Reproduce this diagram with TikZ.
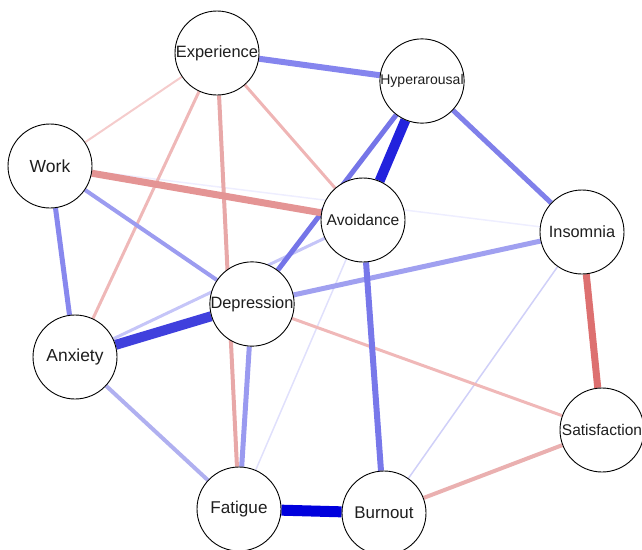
\documentclass[tikz,border=0pt]{standalone}
\usepackage{fontspec}
\setmainfont{Liberation Sans}
\usetikzlibrary{backgrounds}
\definecolor{txt}{HTML}{1E1E1E}
\tikzset{
  vnode/.style={circle, draw=black, line width=0.9pt, fill=white, minimum size=84pt, inner sep=0pt, text=txt},
  edge/.style={line cap=butt},
}
\begin{document}
\begin{tikzpicture}[x=1pt,y=-1pt]
\useasboundingbox (0,0) rectangle (642,549);
\node[vnode, font=\fontsize{16.4}{18}\selectfont] (exp) at (217,53) {Experience};
\node[vnode, font=\fontsize{14}{16}\selectfont] (hyp) at (422,81) {Hyperarousal};
\node[vnode, font=\fontsize{17.5}{20}\selectfont] (work) at (50,166) {Work};
\node[vnode, font=\fontsize{15.6}{18}\selectfont] (avo) at (363,220) {Avoidance};
\node[vnode, font=\fontsize{16.3}{18}\selectfont] (ins) at (582,232) {Insomnia};
\node[vnode, font=\fontsize{16.4}{18}\selectfont] (dep) at (252,304) {Depression};
\node[vnode, font=\fontsize{17.4}{20}\selectfont] (anx) at (75,357) {Anxiety};
\node[vnode, font=\fontsize{15.5}{18}\selectfont] (sat) at (602,430) {Satisfaction};
\node[vnode, font=\fontsize{17.1}{20}\selectfont] (fat) at (239,509) {Fatigue};
\node[vnode, font=\fontsize{16.9}{20}\selectfont] (bur) at (384,513) {Burnout};
\begin{pgfonlayer}{background}
\draw[edge, color={rgb,255:red,238;green,238;blue,255}, line width=1.5pt] (work) -- (ins);
\draw[edge, color={rgb,255:red,224;green,224;blue,252}, line width=1.5pt] (avo) -- (fat);
\draw[edge, color={rgb,255:red,208;green,208;blue,248}, line width=1.5pt] (ins) -- (bur);
\draw[edge, color={rgb,255:red,245;green,204;blue,204}, line width=2pt] (exp) -- (work);
\draw[edge, color={rgb,255:red,239;green,184;blue,184}, line width=3pt] (exp) -- (anx);
\draw[edge, color={rgb,255:red,239;green,181;blue,181}, line width=3pt] (exp) -- (avo);
\draw[edge, color={rgb,255:red,232;green,168;blue,168}, line width=4pt] (exp) -- (fat);
\draw[edge, color={rgb,255:red,240;green,184;blue,184}, line width=3pt] (dep) -- (sat);
\draw[edge, color={rgb,255:red,234;green,176;blue,176}, line width=4pt] (sat) -- (bur);
\draw[edge, color={rgb,255:red,197;green,197;blue,248}, line width=3pt] (avo) -- (anx);
\draw[edge, color={rgb,255:red,176;green,176;blue,240}, line width=4pt] (anx) -- (fat);
\draw[edge, color={rgb,255:red,156;green,156;blue,240}, line width=4pt] (work) -- (dep);
\draw[edge, color={rgb,255:red,136;green,136;blue,238}, line width=5pt] (work) -- (anx);
\draw[edge, color={rgb,255:red,160;green,160;blue,240}, line width=5pt] (ins) -- (dep);
\draw[edge, color={rgb,255:red,154;green,154;blue,240}, line width=5pt] (dep) -- (fat);
\draw[edge, color={rgb,255:red,117;green,117;blue,232}, line width=5pt] (hyp) -- (dep);
\draw[edge, color={rgb,255:red,128;green,128;blue,234}, line width=5pt] (hyp) -- (ins);
\draw[edge, color={rgb,255:red,133;green,133;blue,238}, line width=6pt] (exp) -- (hyp);
\draw[edge, color={rgb,255:red,120;green,120;blue,234}, line width=6pt] (avo) -- (bur);
\draw[edge, color={rgb,255:red,228;green,148;blue,148}, line width=7pt] (work) -- (avo);
\draw[edge, color={rgb,255:red,221;green,112;blue,112}, line width=7pt] (ins) -- (sat);
\draw[edge, color={rgb,255:red,64;green,64;blue,221}, line width=10pt] (anx) -- (dep);
\draw[edge, color={rgb,255:red,34;green,34;blue,221}, line width=10pt] (hyp) -- (avo);
\draw[edge, color={rgb,255:red,0;green,0;blue,221}, line width=11pt] (fat) -- (bur);
\end{pgfonlayer}
\end{tikzpicture}
\end{document}
